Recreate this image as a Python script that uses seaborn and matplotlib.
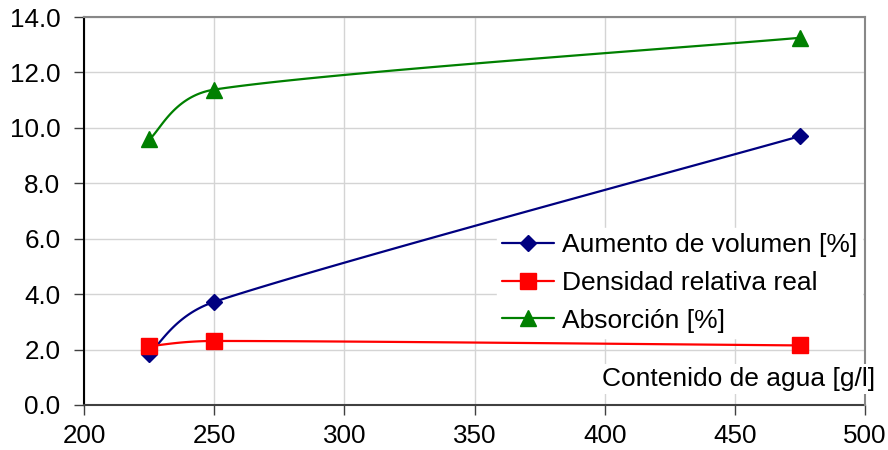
import numpy as np
import matplotlib
matplotlib.use("Agg")
import matplotlib.pyplot as plt
from matplotlib.lines import Line2D
import seaborn as sns

# Water content [g/l]
contenido_agua = [225, 250, 475]
# Series
aumento_volumen = [1.85, 3.72, 9.70]
densidad_relativa = [2.12, 2.31, 2.15]
absorcion = [9.58, 11.38, 13.25]

series_labels = ["Aumento de volumen [%]", "Densidad relativa real", "Absorción [%]"]
x_ticks = [200, 250, 300, 350, 400, 450, 500]
y_ticks = [0, 2, 4, 6, 8, 10, 12, 14]
x_title = "Contenido de agua [g/l]"

sns.set_theme(style="white")
plt.rcParams["font.family"] = ["Liberation Sans", "DejaVu Sans"]
plt.rcParams["text.color"] = "black"

fig = plt.figure(figsize=(8.88, 4.5), dpi=100)
ax = fig.add_axes([84 / 888, 1 - 405 / 450, 781 / 888, 388 / 450])
ax.set_xlim(200, 500)
ax.set_ylim(0, 14)


def smooth_curve(ax, xs, ys, n=60):
    """Bezier smoothing through the points (control arms capped at half a segment)."""
    pts = ax.transData.transform(np.column_stack([xs, ys]))
    P = np.vstack([pts[0], pts, pts[-1]])
    out = []
    t = np.linspace(0, 1, n)[:, None]
    for i in range(1, len(P) - 2):
        p0, p1, p2, p3 = P[i - 1], P[i], P[i + 1], P[i + 2]
        seg = np.linalg.norm(p2 - p1)
        a = (p2 - p0) / 6.0
        b = (p3 - p1) / 6.0
        la, lb = np.linalg.norm(a), np.linalg.norm(b)
        if la > seg / 2:
            a = a * (seg / 2) / la
        if lb > seg / 2:
            b = b * (seg / 2) / lb
        c1 = p1 + a
        c2 = p2 - b
        curve = ((1 - t) ** 3) * p1 + 3 * ((1 - t) ** 2) * t * c1 \
            + 3 * (1 - t) * t ** 2 * c2 + t ** 3 * p2
        out.append(curve if i == 1 else curve[1:])
    out = np.vstack(out)
    return ax.transData.inverted().transform(out)


colors = ["#000080", "#FF0000", "#008000"]
markers = ["D", "s", "^"]
msizes = [8, 11, 11]
data = [aumento_volumen, densidad_relativa, absorcion]
# the red series runs just under the legend box, so it is drawn above it
line_z = [3, 6.2, 3]
marker_z = [4, 6.3, 4]

handles = []
for vals, col, mk, ms, lab, lz, mz in zip(data, colors, markers, msizes,
                                          series_labels, line_z, marker_z):
    curve = smooth_curve(ax, contenido_agua, vals)
    sns.lineplot(x=curve[:, 0], y=curve[:, 1], ax=ax, color=col, lw=1.6,
                 sort=False, estimator=None, zorder=lz)
    ax.plot(contenido_agua, vals, linestyle="none", marker=mk, markersize=ms,
            color=col, markeredgecolor=col, zorder=mz)
    handles.append(Line2D([], [], color=col, lw=1.6, marker=mk, markersize=ms,
                          markeredgecolor=col, label=lab))

ax.set_xticks(x_ticks)
ax.set_yticks(y_ticks)
ax.set_yticklabels([f"{v:.1f}" for v in y_ticks])
ax.grid(True, color="#d4d4d4", lw=1.0)
ax.set_axisbelow(True)
ax.tick_params(axis="both", which="major", labelsize=18.7, length=7, width=1.0,
               direction="out", colors="#404040", labelcolor="black",
               bottom=True, left=True)
ax.tick_params(axis="y", pad=10)
ax.tick_params(axis="x", pad=7)

ax.spines["left"].set_color("black")
ax.spines["left"].set_linewidth(1.5)
ax.spines["bottom"].set_color("#404040")
ax.spines["bottom"].set_linewidth(1.5)
for side in ["top", "right"]:
    ax.spines[side].set_color("#888888")
    ax.spines[side].set_linewidth(1.5)
# keep the right frame line visible beside the legend box
ax.spines["right"].set_zorder(6.5)

leg = ax.legend(handles=handles, loc="upper left",
                bbox_to_anchor=((497 - 84) / 781, (405 - 228) / 388),
                fontsize=19, frameon=True, fancybox=False, framealpha=1,
                edgecolor="white", facecolor="white", handlelength=1.95,
                handletextpad=0.3, labelspacing=0.52, borderpad=0.2,
                borderaxespad=0)
leg.set_zorder(6)

ax.text(1.013, 0.066, x_title, transform=ax.transAxes, ha="right", va="center",
        fontsize=19, color="black", zorder=7,
        bbox=dict(facecolor="white", edgecolor="none", pad=2))

fig.savefig("out.png", dpi=100)
